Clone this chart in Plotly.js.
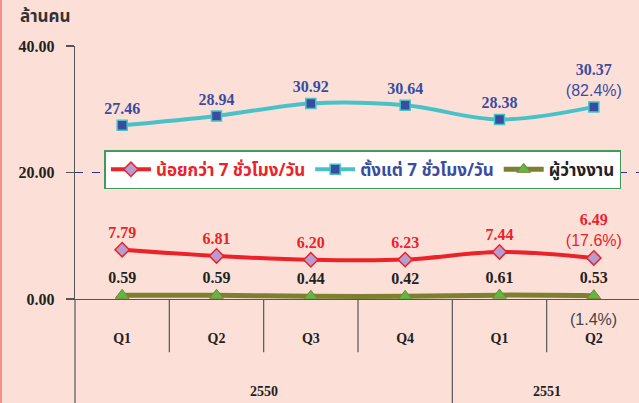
<!DOCTYPE html>
<html>
<head>
<meta charset="utf-8">
<script src="https://cdn.plot.ly/plotly-3.0.1.min.js"></script>
<style>
  html, body { margin: 0; padding: 0; background: #FCE0D8; overflow: hidden; }
  #chart { width: 641px; height: 403px; }
  #edge { position: absolute; left: 0; top: 0; width: 2px; height: 403px; background: #F29090; }
</style>
</head>
<body>
<div id="chart"></div>
<div id="edge"></div>
<script>
// ---- data ----
const quarters = ['Q1', 'Q2', 'Q3', 'Q4', 'Q1', 'Q2'];
const years = ['2550', '2550', '2550', '2550', '2551', '2551'];
const lessThan7 = [7.79, 6.81, 6.20, 6.23, 7.44, 6.49];
const atLeast7 = [27.46, 28.94, 30.92, 30.64, 28.38, 30.37];
const unemployed = [0.59, 0.59, 0.44, 0.42, 0.61, 0.53];
const lastShare = { lessThan7: '17.6%', atLeast7: '82.4%', unemployed: '1.4%' };
const seriesNames = ['น้อยกว่า 7 ชั่วโมง/วัน', 'ตั้งแต่ 7 ชั่วโมง/วัน', 'ผู้ว่างงาน'];
const yTicks = [0, 20, 40];
const yUnit = 'ล้านคน';

const idx = quarters.map((_, i) => i);
const SERIF = 'Liberation Serif, Times New Roman, serif';
const SANS = 'Liberation Sans, Arial, sans-serif';
const THAI = 'Noto Sans Thai, Noto Serif Thai, Loma, Garuda, Tahoma, DejaVu Sans, sans-serif';

function labels(vals, share) {
  return vals.map((v, i) => {
    let s = v.toFixed(2);
    if (share && i === vals.length - 1) {
      s += '<br><span style="font-family:' + SANS + ';font-weight:normal">(' + share + ')</span>';
    }
    return s;
  });
}

const RED = '#EC2229', BLUE = '#3A4CA0', CYAN = '#48C2C6', OLIVE = '#7C8130', GREEN = '#5DB845';

const traces = [
  {
    x: idx, y: lessThan7, type: 'scatter', mode: 'lines+markers+text',
    name: '<span style="color:' + RED + '">' + seriesNames[0] + '</span>',
    line: { color: RED, width: 4, shape: 'spline', smoothing: 1 },
    marker: { symbol: 'diamond', size: 11, color: '#B79CCF', line: { color: RED, width: 1.5 } },
    text: labels(lessThan7, lastShare.lessThan7), textposition: 'top center',
    textfont: { family: SERIF, size: 16, color: RED, weight: 'bold' },
    cliponaxis: false, hoverinfo: 'none'
  },
  {
    x: idx, y: atLeast7, type: 'scatter', mode: 'lines+markers+text',
    name: '<span style="color:' + BLUE + '">' + seriesNames[1] + '</span>',
    line: { color: CYAN, width: 4, shape: 'spline', smoothing: 1 },
    marker: { symbol: 'square', size: 10, color: BLUE, line: { color: CYAN, width: 1.5 } },
    text: labels(atLeast7, lastShare.atLeast7), textposition: 'top center',
    textfont: { family: SERIF, size: 16, color: BLUE, weight: 'bold' },
    cliponaxis: false, hoverinfo: 'none'
  },
  {
    x: idx, y: unemployed, type: 'scatter', mode: 'lines+markers+text',
    name: '<span style="color:#222">' + seriesNames[2] + '</span>',
    line: { color: OLIVE, width: 5, shape: 'spline', smoothing: 1 },
    marker: { symbol: 'triangle-up', size: 12, color: GREEN, line: { color: OLIVE, width: 1 } },
    text: labels(unemployed, null), textposition: 'top center',
    textfont: { family: SERIF, size: 16, color: '#222', weight: 'bold' },
    cliponaxis: false, hoverinfo: 'none'
  }
];

// year group annotations at group centres
const yearGroups = [];
years.forEach((y, i) => {
  const g = yearGroups.find(o => o.year === y);
  if (g) { g.end = i; } else { yearGroups.push({ year: y, start: i, end: i }); }
});

const annotations = yearGroups.map(g => ({
  x: (g.start + g.end) / 2, xref: 'x', y: -0.364, yref: 'paper',
  text: g.year, showarrow: false, yanchor: 'middle',
  font: { family: SERIF, size: 14, color: '#222', weight: 'bold' }
}));
annotations.push({
  x: idx[idx.length - 1], xref: 'x', y: unemployed[unemployed.length - 1], yref: 'y',
  yshift: -24, text: '(' + lastShare.unemployed + ')', showarrow: false,
  font: { family: SANS, size: 16, color: '#444' }
});
annotations.push({
  x: -0.101, xref: 'paper', y: 1.115, yref: 'paper', xanchor: 'left', yanchor: 'middle',
  text: yUnit, showarrow: false,
  font: { family: THAI, size: 17, color: '#333', weight: 'bold' }
});

// divider lines below the axis
const shapes = [{
  type: 'line', xref: 'paper', yref: 'paper', x0: 0, x1: 0, y0: 0, y1: -0.415,
  line: { color: '#555', width: 1.2 }
}];
for (let i = 0; i < quarters.length - 1; i++) {
  const yearBreak = years[i] !== years[i + 1];
  shapes.push({
    type: 'line', xref: 'x', yref: 'paper', x0: i + 0.5, x1: i + 0.5,
    y0: 0, y1: yearBreak ? -0.415 : -0.21,
    line: { color: '#555', width: 1.2 }
  });
}

const layout = {
  width: 641, height: 403,
  margin: { l: 75, r: 0, t: 46, b: 104, pad: 0 },
  paper_bgcolor: '#FCE0D8', plot_bgcolor: '#FCE0D8',
  showlegend: true,
  legend: {
    orientation: 'h', x: 0.052, xanchor: 'left', y: 0.588, yanchor: 'top',
    bgcolor: '#FFFFFF', bordercolor: '#3F9B5C', borderwidth: 1.5,
    font: { family: THAI, size: 17, color: '#222', weight: 'bold' },
    itemwidth: 40, tracegroupgap: 0
  },
  xaxis: {
    type: 'linear', range: [-0.5, 5.5], tickvals: idx, ticktext: quarters,
    showgrid: false, zeroline: false, ticks: '',
    showline: true, linecolor: '#555', linewidth: 1.2,
    ticklabelstandoff: 26,
    tickfont: { family: SERIF, size: 14, color: '#222', weight: 'bold' }
  },
  yaxis: {
    range: [0, 40], tickvals: yTicks, tickformat: '.2f',
    showgrid: true, gridcolor: '#2E3488', griddash: '8px,9px', gridwidth: 1,
    zeroline: true, zerolinecolor: '#555', zerolinewidth: 1.2,
    showline: true, linecolor: '#555', linewidth: 1.2,
    ticks: 'outside', ticklen: 8, tickcolor: '#555', tickwidth: 1.2,
    ticklabelstandoff: 8,
    tickfont: { family: SERIF, size: 16, color: '#222', weight: 'bold' }
  },
  annotations: annotations,
  shapes: shapes
};

Plotly.newPlot('chart', traces, layout, { staticPlot: true, displayModeBar: false });
</script>
</body>
</html>
